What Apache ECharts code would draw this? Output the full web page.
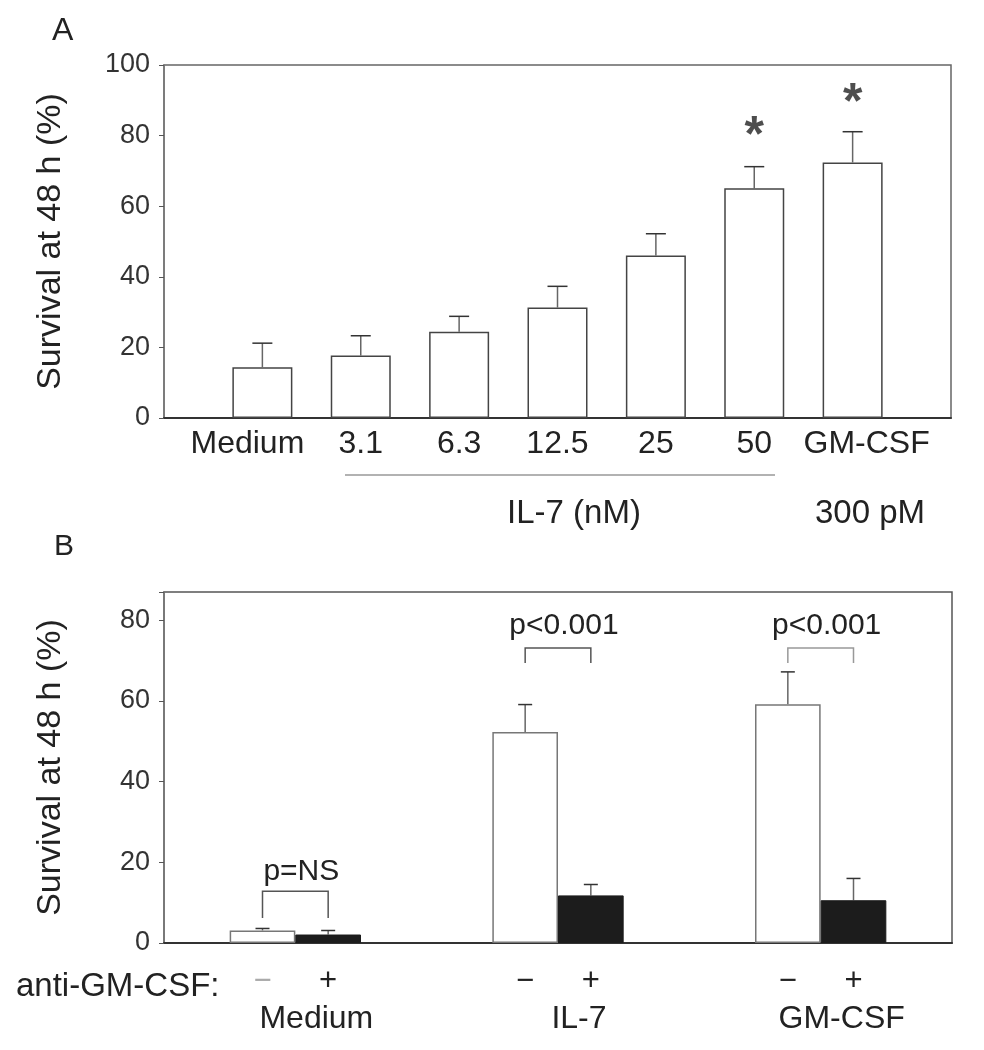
<!DOCTYPE html>
<html>
<head>
<meta charset="utf-8">
<script src="https://cdn.jsdelivr.net/npm/echarts@6/dist/echarts.min.js"></script>
<style>
  html, body { margin: 0; background: #fff; }
  #chart { width: 984px; height: 1050px; }
</style>
</head>
<body>
<div id="chart"></div>
<script>
const FONT = 'Liberation Sans, Arial, Helvetica, sans-serif'

// panel A: IL-7 dose response
const groupsA = ['Medium', '3.1', '6.3', '12.5', '25', '50', 'GM-CSF']
const survA = [14.4, 17.7, 24.4, 31.3, 46.0, 65.1, 72.4]
const errTopA = [21.2, 23.3, 28.8, 37.3, 52.2, 71.2, 81.1]
const starA = [null, null, null, null, null, 83.0, 92.2]
const yMaxA = 100

// panel B: anti-GM-CSF blocking
const groupsB = ['Medium', 'IL-7', 'GM-CSF']
const noAnti = [3.1, 52.3, 59.2]
const noAntiErr = [3.6, 59.1, 67.2]
const withAnti = [2.1, 11.8, 10.6]
const withAntiErr = [3.1, 14.5, 16.0]
const pLabels = ['p=NS', 'p<0.001', 'p<0.001']
const bracketLeg = [6.2, 69.4, 69.4]
const bracketTop = [12.8, 73.1, 73.1]
const pTextY = [17.6, 78.6, 78.6]
const yMaxB = 87

const axisCatsA = ['', ...groupsA, '']

function errBar(offsetFrac, capHalf) {
  return function (params, api) {
    const shift = api.size([1, 0])[0] * offsetFrac
    const a = api.coord([api.value(0), api.value(1)])
    const b = api.coord([api.value(0), api.value(2)])
    const cx = a[0] + shift
    return {
      type: 'group',
      children: [
        { type: 'line', shape: { x1: cx, y1: a[1], x2: cx, y2: b[1] }, style: { stroke: '#666', lineWidth: 1.5 } },
        { type: 'line', shape: { x1: cx - capHalf, y1: b[1], x2: cx + capHalf, y2: b[1] }, style: { stroke: '#333', lineWidth: 1.5 } }
      ]
    }
  }
}

function bracket(params, api) {
  const i = params.dataIndex
  const half = api.size([1, 0])[0] * 0.125
  const leg = api.coord([api.value(0), api.value(1)])
  const top = api.coord([api.value(0), api.value(2)])
  const txt = api.coord([api.value(0), api.value(3)])
  const x1 = leg[0] - half, x2 = leg[0] + half
  return {
    type: 'group',
    children: [
      {
        type: 'polyline',
        shape: { points: [[x1, leg[1]], [x1, top[1]], [x2, top[1]], [x2, leg[1]]] },
        style: { stroke: i === 2 ? '#999' : '#555', lineWidth: 1.5, fill: null }
      },
      {
        type: 'text',
        style: {
          text: pLabels[i], x: txt[0] + 6, y: txt[1],
          align: 'center', verticalAlign: 'middle',
          font: '30px ' + FONT, fill: '#222'
        }
      }
    ]
  }
}

const yName = {
  name: 'Survival at 48 h (%)',
  nameLocation: 'middle',
  nameGap: 96,
  nameTextStyle: { fontSize: 34, fontFamily: FONT, color: '#222' }
}

const chart = echarts.init(document.getElementById('chart'))
chart.setOption({
  animation: false,
  textStyle: { fontFamily: FONT },
  grid: [
    { left: 164, right: 33, top: 65, height: 353, show: true, borderColor: '#666', borderWidth: 1.5 },
    { left: 164, right: 32, top: 592, height: 351, show: true, borderColor: '#555', borderWidth: 1.5 }
  ],
  xAxis: [
    {
      gridIndex: 0, type: 'category', data: axisCatsA, boundaryGap: false,
      axisLine: { lineStyle: { color: '#333', width: 2 } },
      axisTick: { show: false },
      axisLabel: {
        interval: 0, fontSize: 32, color: '#222', margin: 10,
        formatter: v => v === 'Medium' ? '{l|Medium}' : v === 'GM-CSF' ? '{r|GM-CSF}' : v,
        rich: { l: { fontSize: 32, padding: [0, 30, 0, 0] }, r: { fontSize: 32, padding: [0, 0, 0, 28] } }
      }
    },
    {
      gridIndex: 1, type: 'category', data: groupsB,
      axisLine: { lineStyle: { color: '#333', width: 2 } },
      axisTick: { show: false },
      axisLabel: { interval: 0, fontSize: 32, color: '#222', margin: 60, padding: [0, 0, 0, 42] }
    }
  ],
  yAxis: [
    {
      gridIndex: 0, type: 'value', min: 0, max: yMaxA, interval: 20, ...yName,
      splitLine: { show: false },
      axisLine: { show: true, lineStyle: { color: '#777', width: 1.5 } },
      axisTick: { show: true, length: 5, lineStyle: { color: '#555' } },
      axisLabel: { fontSize: 27, color: '#333', margin: 14 }
    },
    {
      gridIndex: 1, type: 'value', min: 0, max: yMaxB, interval: 20, ...yName,
      splitLine: { show: false },
      axisLine: { show: true, lineStyle: { color: '#777', width: 1.5 } },
      axisTick: { show: true, length: 5, lineStyle: { color: '#555' } },
      axisLabel: { fontSize: 27, color: '#333', margin: 14, formatter: v => v % 20 === 0 ? v : '' }
    }
  ],
  graphic: [
    { type: 'text', left: 52, top: 15, style: { text: 'A', font: '32px ' + FONT, fill: '#222' } },
    { type: 'text', left: 54, top: 532, style: { text: 'B', font: '30px ' + FONT, fill: '#222' } },
    { type: 'line', shape: { x1: 345, y1: 475, x2: 775, y2: 475 }, style: { stroke: '#999', lineWidth: 1.5 } },
    { type: 'text', x: 574, y: 514, style: { text: 'IL-7 (nM)', font: '33px ' + FONT, fill: '#222', align: 'center', verticalAlign: 'middle' } },
    { type: 'text', x: 870, y: 514, style: { text: '300 pM', font: '33px ' + FONT, fill: '#222', align: 'center', verticalAlign: 'middle' } },
    { type: 'text', x: 16, y: 987, style: { text: 'anti-GM-CSF:', font: '33px ' + FONT, fill: '#222', verticalAlign: 'middle' } }
  ],
  series: [
    {
      type: 'bar', xAxisIndex: 0, yAxisIndex: 0, barWidth: 60,
      data: ['-', ...survA, '-'],
      itemStyle: { color: '#fff', borderColor: '#444', borderWidth: 1.5 }
    },
    {
      type: 'custom', xAxisIndex: 0, yAxisIndex: 0,
      renderItem: errBar(0, 10),
      data: survA.map((v, i) => [i + 1, v, errTopA[i]])
    },
    {
      type: 'scatter', xAxisIndex: 0, yAxisIndex: 0, symbolSize: 0,
      data: starA.map((v, i) => v == null ? null : [i + 1, v]).filter(d => d),
      label: { show: true, position: 'inside', formatter: '*', fontSize: 50, fontWeight: 'bold', color: '#222', offset: [0, 12] }
    },
    {
      type: 'bar', xAxisIndex: 1, yAxisIndex: 1, barWidth: '25%', barGap: '0%',
      data: noAnti.map((v, i) => i === 0 ? { value: v, label: { color: '#aaa' } } : v),
      itemStyle: { color: '#fff', borderColor: '#777', borderWidth: 1.5 },
      label: { show: true, position: 'bottom', distance: 23, formatter: '\u2212', fontSize: 31, color: '#222' }
    },
    {
      type: 'bar', xAxisIndex: 1, yAxisIndex: 1, barWidth: '25%', barGap: '0%',
      data: withAnti,
      itemStyle: { color: '#1c1c1c', borderColor: '#1c1c1c', borderWidth: 1 },
      label: { show: true, position: 'bottom', distance: 23, formatter: '+', fontSize: 31, color: '#222' }
    },
    {
      type: 'custom', xAxisIndex: 1, yAxisIndex: 1,
      renderItem: errBar(-0.125, 7),
      data: noAnti.map((v, i) => [i, v, noAntiErr[i]])
    },
    {
      type: 'custom', xAxisIndex: 1, yAxisIndex: 1,
      renderItem: errBar(0.125, 7),
      data: withAnti.map((v, i) => [i, v, withAntiErr[i]])
    },
    {
      type: 'custom', xAxisIndex: 1, yAxisIndex: 1,
      renderItem: bracket,
      data: groupsB.map((g, i) => [i, bracketLeg[i], bracketTop[i], pTextY[i]])
    }
  ]
})
</script>
</body>
</html>
